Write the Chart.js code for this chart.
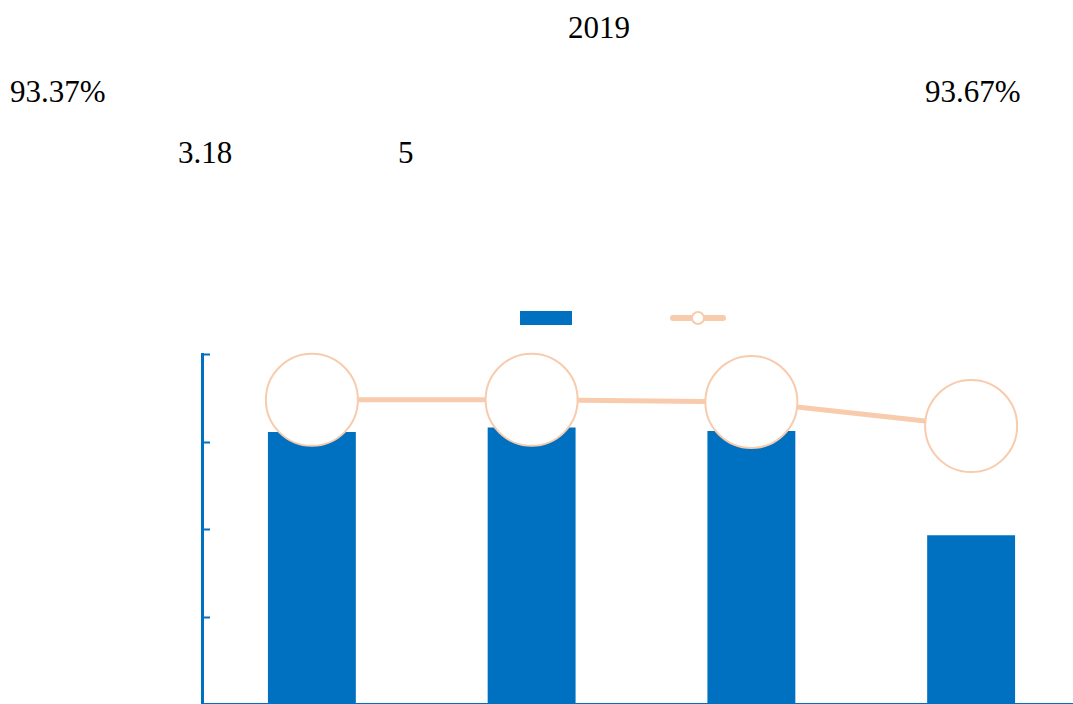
<!DOCTYPE html>
<html>
<head>
    <meta charset="UTF-8">
    <title>2019</title>
    <style>
        * { margin: 0; padding: 0; box-sizing: border-box; }
        body {
            width: 1073px;
            height: 704px;
            overflow: hidden;
            background: #fff;
            position: relative;
            color: #000;
        }
        .txt {
            position: absolute;
            font-family: "Liberation Serif", "Times New Roman", serif;
            font-size: 31px;
            line-height: 1;
            white-space: nowrap;
        }
        .legend-bar { position: absolute; left: 520px; top: 311px; width: 52px; height: 14px; background: #0070C0; }
        .legend-line { position: absolute; left: 670px; top: 315px; width: 56px; height: 6px; border-radius: 3px; background: #F8CBAD; }
        .legend-dot { position: absolute; left: 691px; top: 311px; width: 14px; height: 14px; border-radius: 50%; background: #fff; border: 2px solid #F8CBAD; }
        #mainChart { position: absolute; left: 0; top: 0; }
    </style>
    <script src="https://cdn.jsdelivr.net/npm/chart.js"></script>
</head>
<body>
    <!-- text lines -->
    <div class="txt" style="left:568px; top:12px;">2019</div>
    <div class="txt" style="left:10px; top:76px;">93.37%</div>
    <div class="txt" style="left:925px; top:76px;">93.67%</div>
    <div class="txt" style="left:178px; top:137px;">3.18</div>
    <div class="txt" style="left:398px; top:137px;">5</div>

    <!-- legend -->
    <div class="legend-bar"></div>
    <div class="legend-line"></div>
    <div class="legend-dot"></div>

    <canvas id="mainChart" width="1100" height="719"></canvas>

    <script>
        // data
        const categories = ['1', '2', '3', '4'];
        const barValues = [3.11, 3.16, 3.12, 1.93];
        const lineValues = [86.9, 86.9, 86.3, 79.4];
        const yTicks = [0, 1, 2, 3, 4];

        const blue = '#0070C0';
        const peach = '#F8CBAD';

        // small inward tick marks on the left axis
        const inwardTicks = {
            id: 'inwardTicks',
            afterDraw(chart) {
                const y = chart.scales.y;
                const c = chart.ctx;
                c.save();
                c.strokeStyle = blue;
                c.lineWidth = 2;
                y.ticks.forEach((t, i) => {
                    const py = Math.round(y.getPixelForTick(i)) + 0.5;
                    c.beginPath();
                    c.moveTo(y.right, py);
                    c.lineTo(y.right + 8, py);
                    c.stroke();
                });
                c.restore();
            }
        };

        new Chart(document.getElementById('mainChart'), {
            data: {
                labels: categories,
                datasets: [
                    {
                        type: 'line',
                        data: lineValues,
                        yAxisID: 'y1',
                        borderColor: peach,
                        borderWidth: 5,
                        pointRadius: 46,
                        pointHoverRadius: 46,
                        pointBorderWidth: 2,
                        pointBorderColor: peach,
                        pointBackgroundColor: '#fff',
                        clip: false,
                        order: 0
                    },
                    {
                        type: 'bar',
                        data: barValues,
                        yAxisID: 'y',
                        backgroundColor: blue,
                        categoryPercentage: 1,
                        barPercentage: 0.4,
                        order: 1
                    }
                ]
            },
            options: {
                responsive: false,
                animation: false,
                layout: { autoPadding: false, padding: { left: 194, right: 19, top: 354, bottom: 7 } },
                plugins: { legend: { display: false }, tooltip: { enabled: false } },
                scales: {
                    x: {
                        grid: { display: false },
                        ticks: { display: false },
                        border: { display: true, color: blue, width: 2 }
                    },
                    y: {
                        min: yTicks[0],
                        max: yTicks[yTicks.length - 1],
                        ticks: { display: false, stepSize: 1 },
                        grid: { display: false },
                        border: { display: true, color: blue, width: 3 }
                    },
                    y1: {
                        display: false,
                        min: 0,
                        max: 100
                    }
                }
            },
            plugins: [inwardTicks]
        });
    </script>
</body>
</html>
